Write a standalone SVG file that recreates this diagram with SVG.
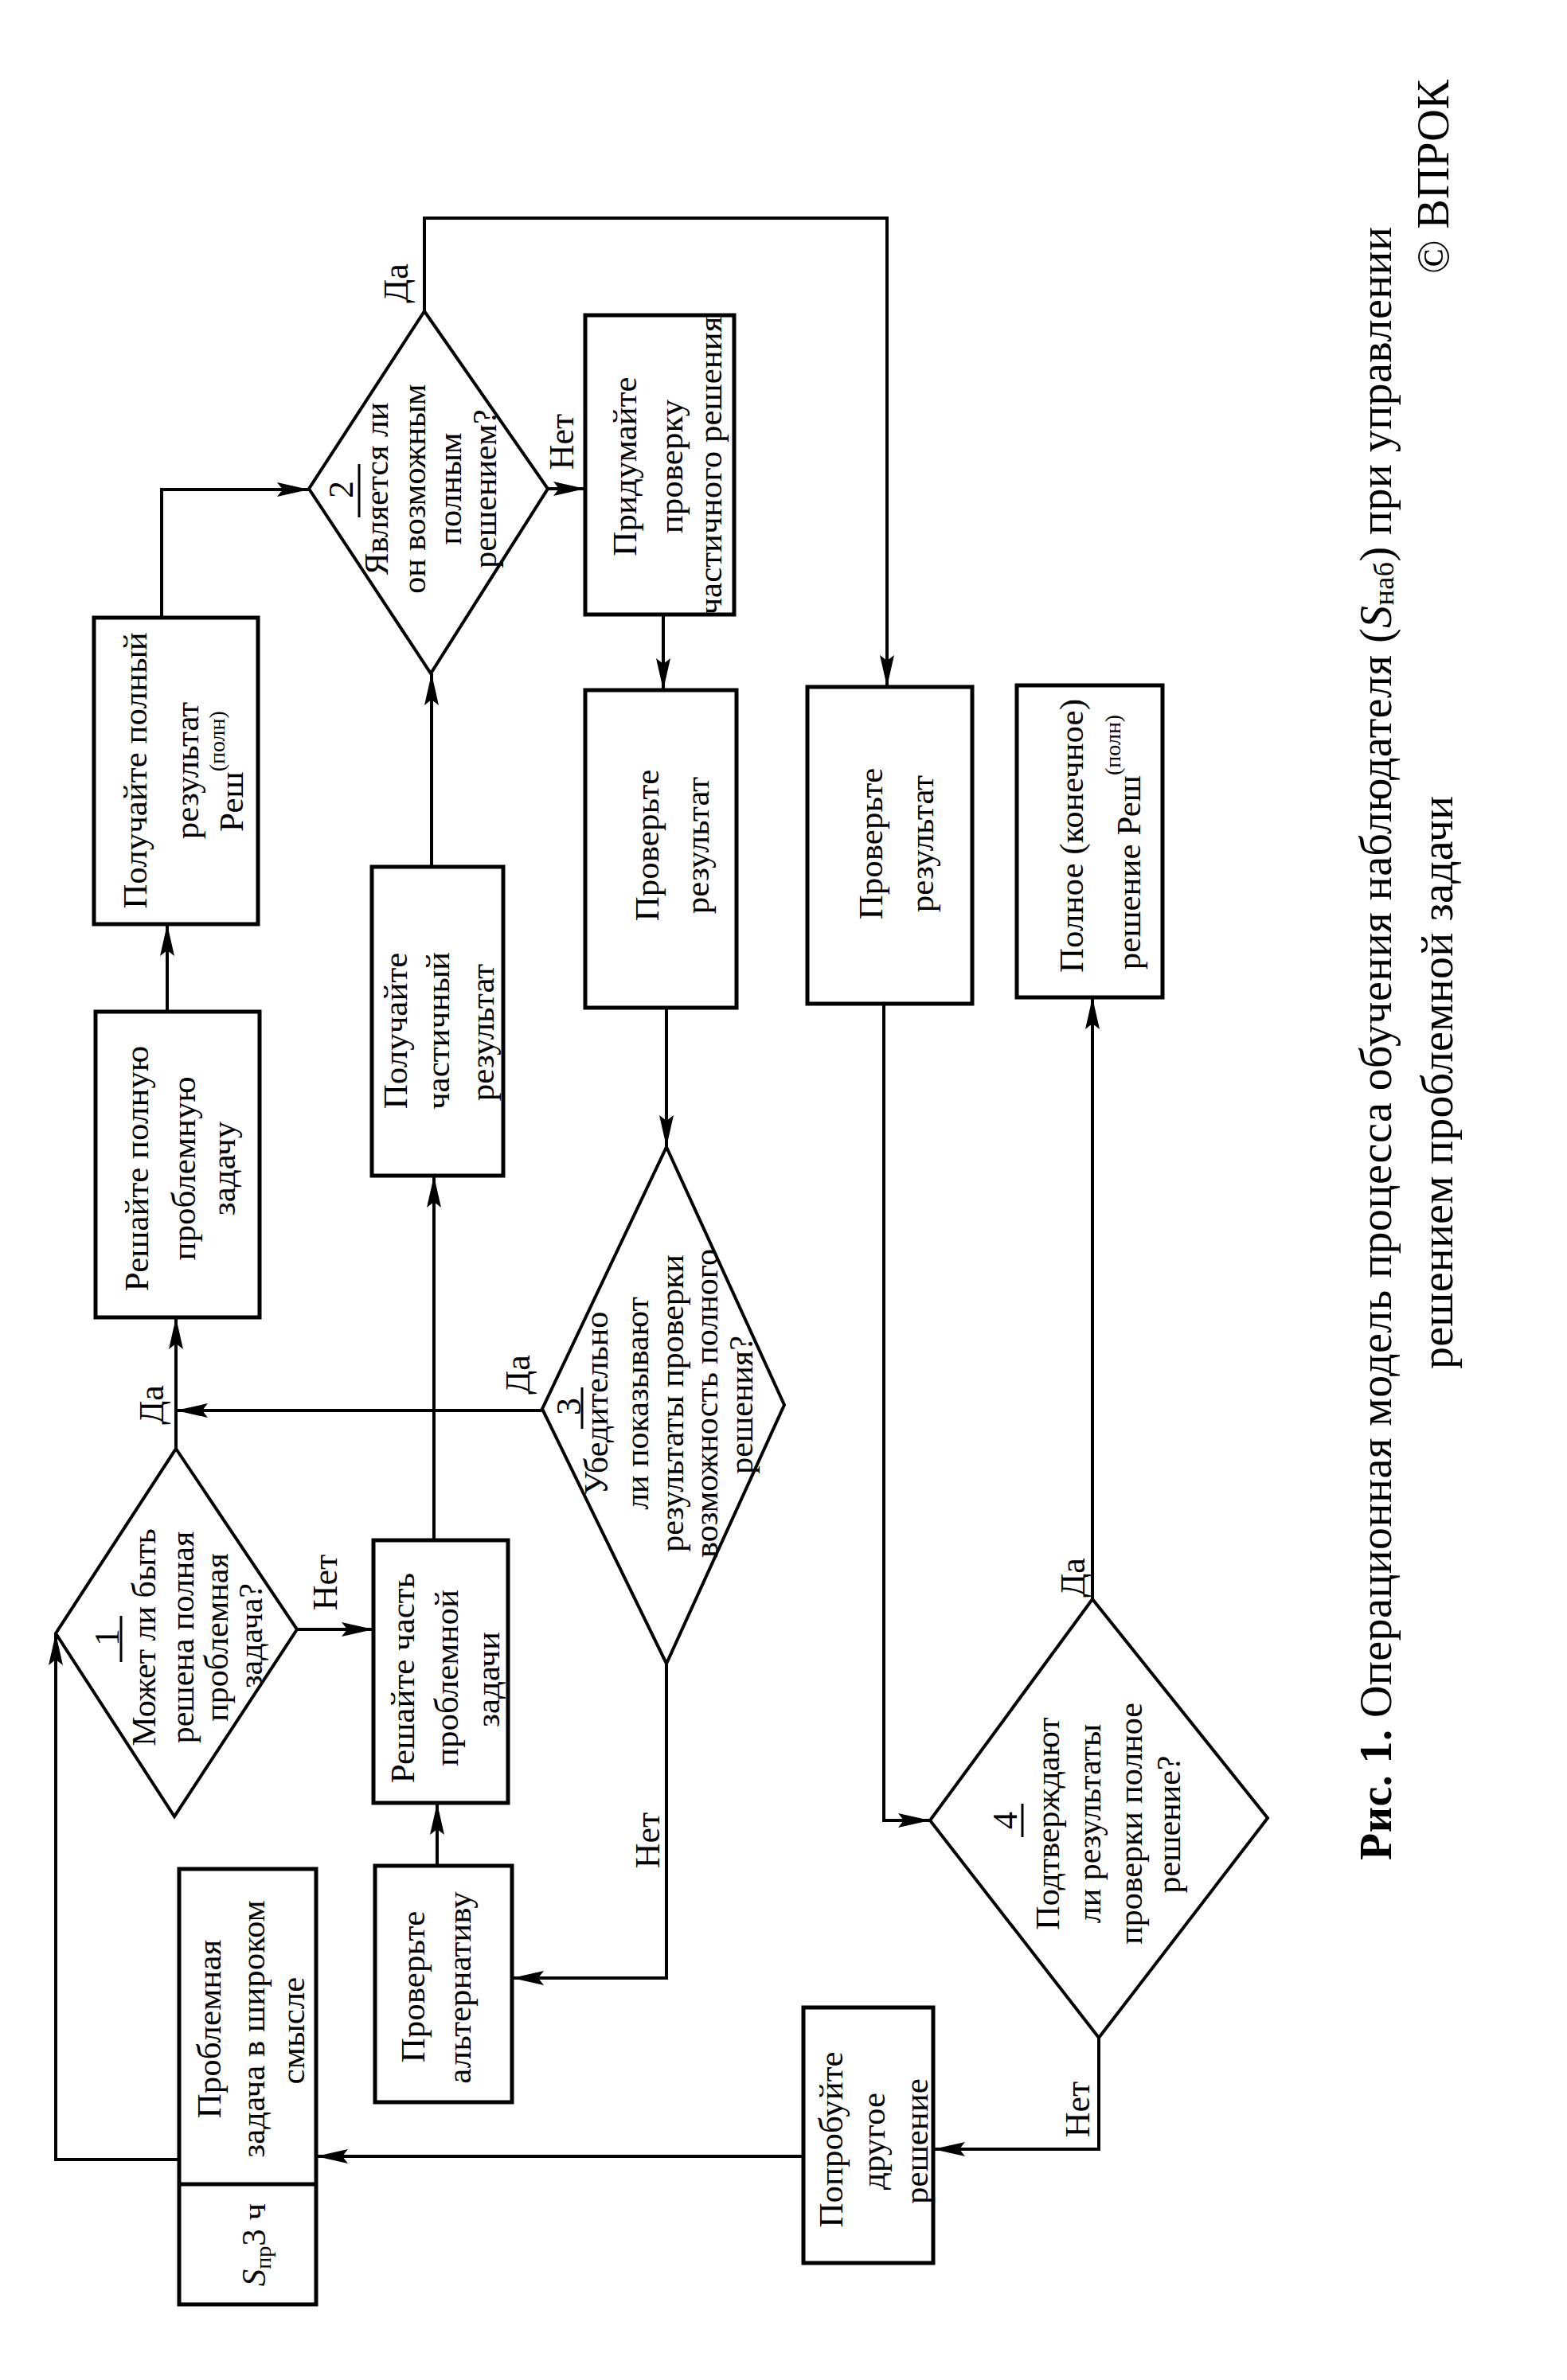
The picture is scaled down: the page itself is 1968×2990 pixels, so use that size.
<svg xmlns="http://www.w3.org/2000/svg" width="1968" height="2990" viewBox="0 0 1968 2990">
<style>
.box{fill:none;stroke:#000;stroke-width:5}
.dia{fill:none;stroke:#000;stroke-width:4;stroke-linejoin:miter}
.con{fill:none;stroke:#000;stroke-width:4}
.bar{stroke:#000;stroke-width:3}
.t{font-family:"Liberation Serif","Times New Roman",serif;font-size:43px;text-anchor:middle;dominant-baseline:central;fill:#000}
.d{font-size:42px}
.lbl{font-size:44px}
.num{font-size:44px}
.cap{font-size:56px}
</style>
<defs>
<marker id="ah" viewBox="0 0 40 18" refX="40" refY="9" markerWidth="40" markerHeight="18" markerUnits="userSpaceOnUse" orient="auto">
<path d="M0,0 L40,9 L0,18 L7,9 z" fill="#000"/>
</marker>
</defs>
<rect x="0" y="0" width="1968" height="2990" fill="#fff"/>

<g id="connectors">
<path class="con" d="M221,1820 V1655" marker-end="url(#ah)"/>
<path class="con" d="M210,1271 V1161" marker-end="url(#ah)"/>
<path class="con" d="M203,776 V615 H388" marker-end="url(#ah)"/>
<path class="con" d="M533,391 V274 H1114 V863" marker-end="url(#ah)"/>
<path class="con" d="M688,614 H735" marker-end="url(#ah)"/>
<path class="con" d="M833,772 V867" marker-end="url(#ah)"/>
<path class="con" d="M837,1266 V1441" marker-end="url(#ah)"/>
<path class="con" d="M681,1772 H221" marker-end="url(#ah)"/>
<path class="con" d="M837,2090 V2485 H643" marker-end="url(#ah)"/>
<path class="con" d="M549,2344 V2265" marker-end="url(#ah)"/>
<path class="con" d="M545,1935 V1477" marker-end="url(#ah)"/>
<path class="con" d="M542,1089 V846" marker-end="url(#ah)"/>
<path class="con" d="M373,2047 H469" marker-end="url(#ah)"/>
<path class="con" d="M225,2713 H70 V2052" marker-end="url(#ah)"/>
<path class="con" d="M1009,2709 H397" marker-end="url(#ah)"/>
<path class="con" d="M1110,1261 V2287 H1168" marker-end="url(#ah)"/>
<path class="con" d="M1372,2009 V1253" marker-end="url(#ah)"/>
<path class="con" d="M1380,2560 V2700 H1172" marker-end="url(#ah)"/>
<text class="t lbl" transform="translate(497,356) rotate(-90)">Да</text>
<text class="t lbl" transform="translate(705,555) rotate(-90)">Нет</text>
<text class="t lbl" transform="translate(190,1765) rotate(-90)">Да</text>
<text class="t lbl" transform="translate(408,1988) rotate(-90)">Нет</text>
<text class="t lbl" transform="translate(650,1727) rotate(-90)">Да</text>
<text class="t lbl" transform="translate(813,2312) rotate(-90)">Нет</text>
<text class="t lbl" transform="translate(1347,1982) rotate(-90)">Да</text>
<text class="t lbl" transform="translate(1353,2650) rotate(-90)">Нет</text>
</g>

<g id="n-full-result">
<rect class="box" x="118" y="776" width="206" height="385"/>
<text class="t" transform="translate(169,968) rotate(-90)">Получайте полный</text>
<text class="t" transform="translate(234,968) rotate(-90)">результат</text>
<text class="t" transform="translate(290,969) rotate(-90)">Реш<tspan font-size="28" dy="-18">(полн)</tspan></text>
</g>

<g id="n-solve-full">
<rect class="box" x="120" y="1271" width="206" height="384"/>
<text class="t" transform="translate(171,1468) rotate(-90)">Решайте полную</text>
<text class="t" transform="translate(230,1468) rotate(-90)">проблемную</text>
<text class="t" transform="translate(280,1468) rotate(-90)">задачу</text>
</g>

<g id="n-dec1">
<polygon class="dia" points="221,1820 373,2047 219,2282 70,2052"/>
<text class="t num" transform="translate(134,2057) rotate(-90)">1</text>
<line class="bar" x1="152" y1="2030" x2="152" y2="2088"/>
<text class="t d" transform="translate(181,2057) rotate(-90)">Может ли быть</text>
<text class="t d" transform="translate(229,2057) rotate(-90)">решена полная</text>
<text class="t d" transform="translate(272,2057) rotate(-90)">проблемная</text>
<text class="t d" transform="translate(315,2055) rotate(-90)">задача?</text>
</g>

<g id="n-dec2">
<polygon class="dia" points="533,391 688,614 541,846 388,614"/>
<text class="t num" transform="translate(428,615) rotate(-90)">2</text>
<line class="bar" x1="451" y1="583" x2="451" y2="650"/>
<text class="t d" transform="translate(473,614) rotate(-90)">Является ли</text>
<text class="t d" transform="translate(520,614) rotate(-90)">он возможным</text>
<text class="t d" transform="translate(565,614) rotate(-90)">полным</text>
<text class="t d" transform="translate(609,614) rotate(-90)">решением?</text>
</g>

<g id="n-devise-check">
<rect class="box" x="735" y="396" width="187" height="376"/>
<text class="t" transform="translate(784,586) rotate(-90)">Придумайте</text>
<text class="t" transform="translate(842,586) rotate(-90)">проверку</text>
<text class="t" transform="translate(891,585) rotate(-90)">частичного решения</text>
</g>

<g id="n-check-result-1">
<rect class="box" x="735" y="867" width="190" height="399"/>
<text class="t" transform="translate(812,1062) rotate(-90)">Проверьте</text>
<text class="t" transform="translate(875,1062) rotate(-90)">результат</text>
</g>

<g id="n-partial-result">
<rect class="box" x="467" y="1089" width="165" height="388"/>
<text class="t" transform="translate(496,1295) rotate(-90)">Получайте</text>
<text class="t" transform="translate(549,1295) rotate(-90)">частичный</text>
<text class="t" transform="translate(605,1297) rotate(-90)">результат</text>
</g>

<g id="n-solve-part">
<rect class="box" x="469" y="1935" width="169" height="330"/>
<text class="t" transform="translate(505,2108) rotate(-90)">Решайте часть</text>
<text class="t" transform="translate(560,2108) rotate(-90)">проблемной</text>
<text class="t" transform="translate(612,2110) rotate(-90)">задачи</text>
</g>

<g id="n-dec3">
<polygon class="dia" points="837,1441 985,1765 837,2090 681,1770"/>
<text class="t num" transform="translate(714,1767) rotate(-90)">3</text>
<line class="bar" x1="731" y1="1743" x2="731" y2="1795"/>
<text class="t d" transform="translate(749,1763) rotate(-90)">Убедительно</text>
<text class="t d" transform="translate(800,1763) rotate(-90)">ли показывают</text>
<text class="t d" transform="translate(844,1763) rotate(-90)">результаты проверки</text>
<text class="t d" transform="translate(887,1763) rotate(-90)">возможность полного</text>
<text class="t d" transform="translate(931,1765) rotate(-90)">решения?</text>
</g>

<g id="n-check-result-2">
<rect class="box" x="1014" y="863" width="207" height="398"/>
<text class="t" transform="translate(1093,1060) rotate(-90)">Проверьте</text>
<text class="t" transform="translate(1157,1060) rotate(-90)">результат</text>
</g>

<g id="n-final">
<rect class="box" x="1277" y="861" width="183" height="392"/>
<text class="t" transform="translate(1345,1050) rotate(-90)">Полное (конечное)</text>
<text class="t" transform="translate(1417,1058) rotate(-90)">решение Реш<tspan font-size="28" dy="-20">(полн)</tspan></text>
</g>

<g id="n-dec4">
<polygon class="dia" points="1372,2009 1592,2284 1380,2560 1168,2287"/>
<text class="t num" transform="translate(1262,2287) rotate(-90)">4</text>
<line class="bar" x1="1284" y1="2266" x2="1284" y2="2308"/>
<text class="t d" transform="translate(1316,2291) rotate(-90)">Подтверждают</text>
<text class="t d" transform="translate(1368,2291) rotate(-90)">ли результаты</text>
<text class="t d" transform="translate(1420,2291) rotate(-90)">проверки полное</text>
<text class="t d" transform="translate(1468,2292) rotate(-90)">решение?</text>
</g>

<g id="n-check-alt">
<rect class="box" x="471" y="2344" width="172" height="297"/>
<text class="t" transform="translate(518,2496) rotate(-90)">Проверьте</text>
<text class="t" transform="translate(576,2497) rotate(-90)">альтернативу</text>
</g>

<g id="n-problem">
<rect class="box" x="225" y="2348" width="172" height="547"/>
<line class="box" x1="225" y1="2744" x2="397" y2="2744"/>
<text class="t" transform="translate(262,2549) rotate(-90)">Проблемная</text>
<text class="t" transform="translate(317,2549) rotate(-90)">задача в широком</text>
<text class="t" transform="translate(367,2551) rotate(-90)">смысле</text>
<text class="t" transform="translate(318,2820) rotate(-90)"><tspan font-style="italic">S</tspan><tspan font-size="28" dy="12">пр</tspan><tspan dy="-12">3 ч</tspan></text>
</g>

<g id="n-try-other">
<rect class="box" x="1009" y="2522" width="163" height="321"/>
<text class="t" transform="translate(1043,2688) rotate(-90)">Попробуйте</text>
<text class="t" transform="translate(1096,2690) rotate(-90)">другое</text>
<text class="t" transform="translate(1150,2690) rotate(-90)">решение</text>
</g>

<g id="caption">
<text class="t cap" transform="translate(1728,1311) rotate(-90)" textLength="2052" lengthAdjust="spacing"><tspan font-weight="bold">Рис. 1.</tspan> Операционная модель процесса обучения наблюдателя (<tspan font-style="italic">S</tspan><tspan font-size="36" dy="10">наб</tspan><tspan dy="-10">) при управлении</tspan></text>
<text class="t cap" transform="translate(1805,1360) rotate(-90)" textLength="720" lengthAdjust="spacing">решением проблемной задачи</text>
<text class="t cap" transform="translate(1800,222) rotate(-90)">© ВПРОК</text>
</g>
</svg>
